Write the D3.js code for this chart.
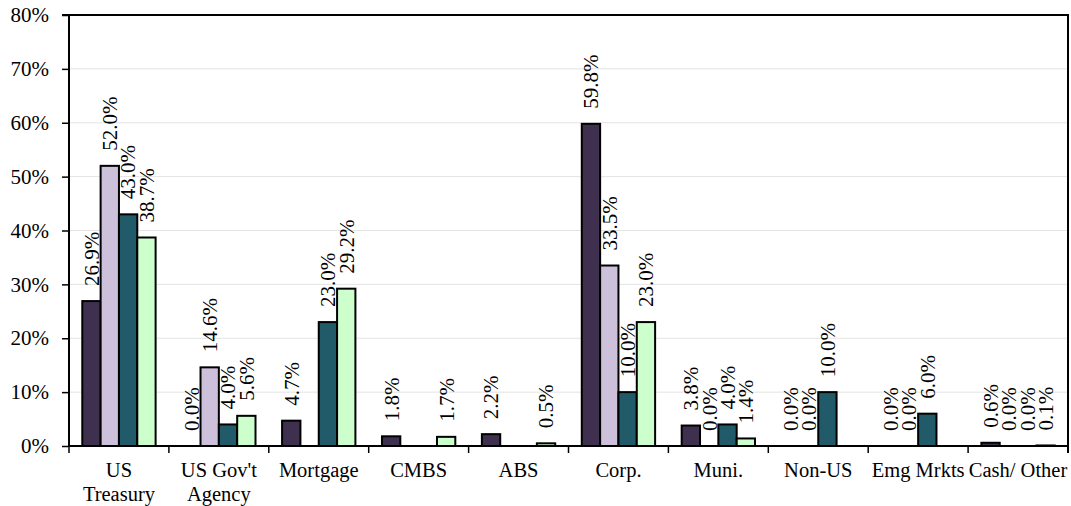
<!DOCTYPE html>
<html><head><meta charset="utf-8">
<script src="https://cdn.jsdelivr.net/npm/d3@7"></script>
<style>body{margin:0;background:#fff;} svg{display:block;}</style>
</head><body>
<svg id="chart" width="1071" height="506"></svg>
<script>
const categories = [["US","Treasury"],["US Gov't","Agency"],["Mortgage"],["CMBS"],["ABS"],["Corp."],["Muni."],["Non-US"],["Emg Mrkts"],["Cash/ Other"]];
const series1 = [26.9, 0.0, 4.7, 1.8, 2.2, 59.8, 3.8, 0.0, 0.0, 0.6];
const series2 = [52.0, 14.6, null, null, null, 33.5, 0.0, 0.0, 0.0, 0.0];
const series3 = [43.0, 4.0, 23.0, null, null, 10.0, 4.0, 10.0, 6.0, 0.0];
const series4 = [38.7, 5.6, 29.2, 1.7, 0.5, 23.0, 1.4, null, null, 0.1];
const yTicks = [0,10,20,30,40,50,60,70,80];
const colors = ["#3f3050","#ccc0da","#215a68","#ccffcc"];

const seriesAll = [series1, series2, series3, series4];
const svg = d3.select("#chart");
const m = {left:69, top:15, right:1068, bottom:446};
const font = "Liberation Serif, Times New Roman, serif";

const x0 = d3.scaleBand().domain(d3.range(categories.length)).range([m.left, m.right]).paddingInner(0).paddingOuter(0);
const x1 = d3.scaleBand().domain(d3.range(4)).range([0, x0.bandwidth()]).paddingOuter(0.725).paddingInner(0);
const y = d3.scaleLinear().domain([0,80]).range([m.bottom, m.top]);

// gridlines
svg.append("g").selectAll("line").data(yTicks.filter(t=>t>0 && t<80)).join("line")
  .attr("x1", m.left).attr("x2", m.right).attr("y1", d=>y(d)).attr("y2", d=>y(d))
  .attr("stroke", "#e3e3e3").attr("stroke-width", 1);

// bars
const data = [];
seriesAll.forEach((s, si) => s.forEach((v, ci) => { if (v !== null) data.push({si, ci, v}); }));
svg.append("g").selectAll("rect").data(data).join("rect")
  .attr("x", d => x0(d.ci) + x1(d.si))
  .attr("width", x1.bandwidth())
  .attr("y", d => y(d.v))
  .attr("height", d => y(0) - y(d.v))
  .attr("fill", d => colors[d.si])
  .attr("stroke", "#000").attr("stroke-width", 2);

// labels
svg.append("g").selectAll("text").data(data).join("text")
  .attr("transform", d => `translate(${x0(d.ci) + x1(d.si) + x1.bandwidth()/2},${y(d.v) - 15}) rotate(-90)`)
  .attr("dy", "0.35em")
  .attr("text-anchor", "start")
  .attr("font-family", font).attr("font-size", 21)
  .attr("fill", "#000")
  .text(d => d.v.toFixed(1) + "%");

// y axis
const yAxis = d3.axisLeft(y).tickValues(yTicks).tickFormat(d => d + "%").tickSize(7).tickPadding(13);
const ga = svg.append("g").attr("transform", `translate(${m.left},0)`).call(yAxis);
ga.select(".domain").attr("stroke-width", 2).attr("d", `M0,${m.top}V${m.bottom}`);
ga.selectAll(".tick line").attr("stroke-width", 1.5);
ga.selectAll("text").attr("font-family", font).attr("font-size", 21).attr("fill", "#000");

// x axis
const xb = svg.append("g");
xb.append("line").attr("x1", m.left).attr("x2", m.right).attr("y1", m.bottom).attr("y2", m.bottom).attr("stroke", "#000").attr("stroke-width", 2);
const bounds = d3.range(categories.length + 1).map(i => i < categories.length ? x0(i) : m.right);
xb.selectAll("line.t").data(bounds).join("line").attr("class","t")
  .attr("x1", d=>d).attr("x2", d=>d).attr("y1", m.bottom).attr("y2", m.bottom + 7)
  .attr("stroke", "#000").attr("stroke-width", 1.5);
const cl = xb.selectAll("text").data(categories).join("text")
  .attr("x", (d,i) => x0(i) + x0.bandwidth()/2)
  .attr("y", 477)
  .attr("text-anchor", "middle")
  .attr("font-family", font).attr("font-size", 20.5).attr("fill", "#000");
cl.each(function(d){
  const t = d3.select(this);
  d.forEach((line, k) => t.append("tspan").attr("x", t.attr("x")).attr("dy", k === 0 ? 0 : 24).text(line));
});

// top and right border
svg.append("path").attr("d", `M${m.left - 7},${m.top}H${m.right}V${m.bottom + 7}`)
  .attr("fill", "none").attr("stroke", "#000").attr("stroke-width", 2);
</script>
</body></html>
